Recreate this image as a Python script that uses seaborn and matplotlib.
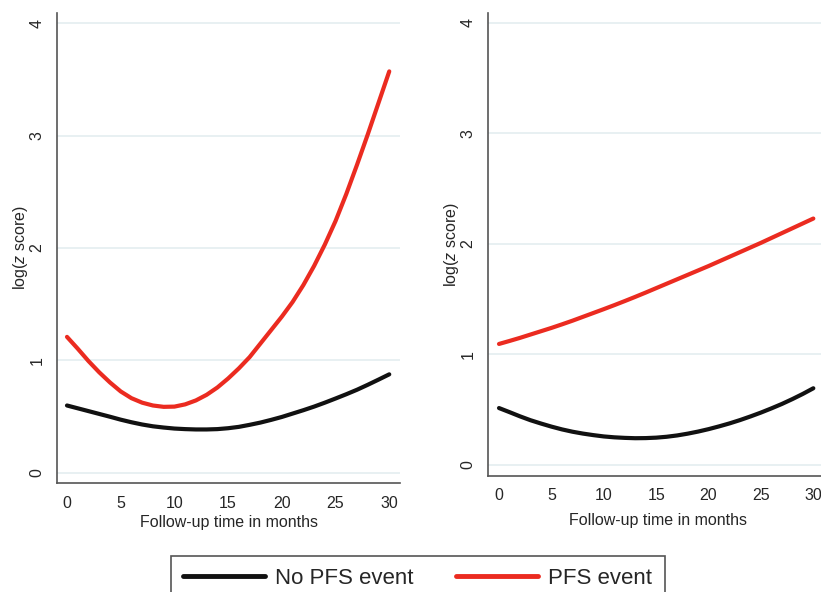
import pandas as pd
import numpy as np
import matplotlib as mpl
import matplotlib.pyplot as plt
import seaborn as sns

sns.set_style("white")
mpl.rcParams['font.family'] = ['Liberation Sans', 'DejaVu Sans']
mpl.rcParams['mathtext.fontset'] = 'custom'
mpl.rcParams['mathtext.it'] = 'Liberation Sans:italic'
mpl.rcParams['mathtext.rm'] = 'Liberation Sans'

# follow-up month, values
months = list(range(31))

left_no_event = [0.600, 0.575, 0.550, 0.525, 0.500, 0.474, 0.451, 0.431, 0.415, 0.404,
                 0.395, 0.390, 0.387, 0.387, 0.390, 0.398, 0.410, 0.428, 0.448, 0.472,
                 0.498, 0.528, 0.558, 0.590, 0.625, 0.662, 0.700, 0.740, 0.784, 0.830,
                 0.877]
left_event = [1.21, 1.105, 0.995, 0.895, 0.805, 0.725, 0.665, 0.625, 0.600, 0.588,
              0.59, 0.61, 0.645, 0.695, 0.76, 0.84, 0.93, 1.03, 1.15, 1.27,
              1.39, 1.52, 1.67, 1.84, 2.03, 2.24, 2.48, 2.74, 3.01, 3.29,
              3.57]

right_no_event = [0.515, 0.478, 0.440, 0.405, 0.375, 0.347, 0.322, 0.301, 0.284, 0.270,
                  0.258, 0.250, 0.245, 0.242, 0.243, 0.247, 0.255, 0.267, 0.283, 0.302,
                  0.324, 0.349, 0.376, 0.406, 0.439, 0.474, 0.512, 0.552, 0.596, 0.643,
                  0.694]
right_event = [1.095, 1.122, 1.15, 1.18, 1.21, 1.24, 1.272, 1.305, 1.34, 1.375,
               1.41, 1.446, 1.483, 1.521, 1.56, 1.60, 1.64, 1.68, 1.72, 1.76,
               1.80, 1.842, 1.884, 1.926, 1.968, 2.01, 2.054, 2.098, 2.142, 2.186,
               2.23]

groups = ["No PFS event", "PFS event"]
x_ticks = [0, 5, 10, 15, 20, 25, 30]
y_ticks = [0, 1, 2, 3, 4]

colors = {"No PFS event": "#111111", "PFS event": "#eb2b20"}


def make_df(no_event, event):
    return pd.DataFrame({
        "month": months * 2,
        "value": no_event + event,
        "group": [groups[0]] * len(months) + [groups[1]] * len(months),
    })


fig = plt.figure(figsize=(8.21, 5.92), dpi=100)
ax1 = fig.add_axes([57 / 821, 1 - 483 / 592, 343 / 821, 470 / 592])
ax2 = fig.add_axes([488 / 821, 1 - 476 / 592, 340 / 821, 463 / 592])

panels = [
    (ax1, make_df(left_no_event, left_event), (-0.93, 31.0), (-0.089, 4.089), 3),
    (ax2, make_df(right_no_event, right_event), (-1.05, 31.4), (-0.10, 4.09), 6.5),
]

for ax, df, xl, yl, xpad in panels:
    sns.lineplot(data=df, x="month", y="value", hue="group", palette=colors,
                 linewidth=3.0, ax=ax, legend=False)
    ax.set_xlim(*xl)
    ax.set_ylim(*yl)
    ax.set_xticks(x_ticks)
    ax.set_yticks(y_ticks)
    ax.set_yticklabels([str(v) for v in y_ticks], rotation=90, va='center')
    ax.yaxis.grid(True, color='#e4eef0', linewidth=1.2)
    ax.set_axisbelow(True)
    for s in ['top', 'right']:
        ax.spines[s].set_visible(False)
    for s in ['left', 'bottom']:
        ax.spines[s].set_color('#555555')
        ax.spines[s].set_linewidth(1.2)
    ax.tick_params(axis='both', length=5, width=1.1, color='#555555',
                   labelsize=11.5, direction='out', pad=4)
    ax.set_xlabel("Follow-up time in months", fontsize=11.5, labelpad=xpad)
    ax.set_ylabel("log($z$ score)", fontsize=11.5, labelpad=0)

handles = [mpl.lines.Line2D([], [], color=colors[g], linewidth=3.5) for g in groups]
leg = fig.legend(handles, groups, loc='upper left',
                 bbox_to_anchor=(171 / 821, 1 - 556 / 592), ncol=2,
                 fontsize=16, handlelength=3.7, handletextpad=0.45,
                 columnspacing=1.9, borderpad=0.55, borderaxespad=0,
                 fancybox=False, framealpha=1, edgecolor='#555555')
leg.get_frame().set_linewidth(1.2)

fig.savefig('out.png', dpi=100)
